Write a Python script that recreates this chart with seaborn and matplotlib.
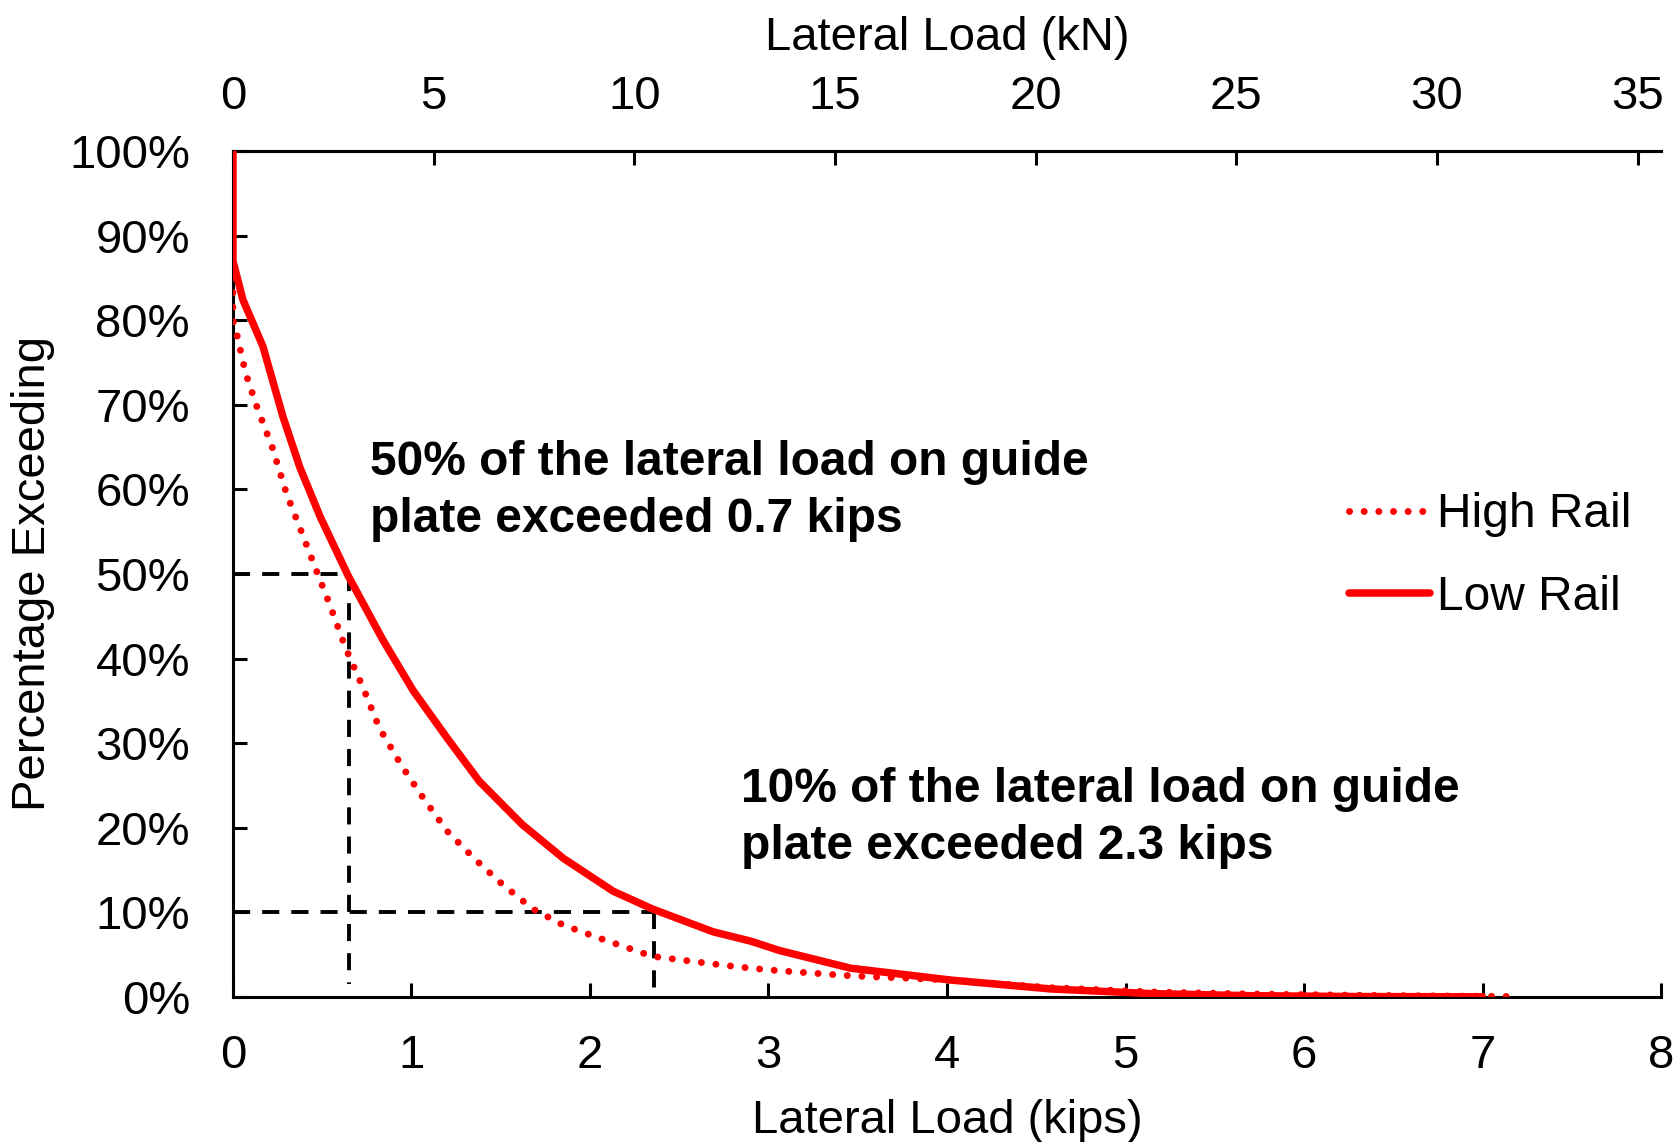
import matplotlib
matplotlib.use("Agg")
import matplotlib.pyplot as plt
import seaborn as sns
import pandas as pd

# ---- data ----
low_x = [0, 0, 0.056, 0.168, 0.28, 0.375, 0.49, 0.645, 0.84, 1.01, 1.20, 1.38, 1.62, 1.85,
         2.13, 2.35, 2.69, 2.90, 3.06, 3.46, 4.02, 4.58, 5.14, 5.70, 6.30, 7.00]
low_y = [100, 87, 82.4, 76.9, 68.6, 62.6, 56.7, 49.8, 42.2, 36.2, 30.6, 25.5, 20.4, 16.4,
         12.5, 10.4, 7.7, 6.6, 5.5, 3.4, 2.0, 0.95, 0.4, 0.15, 0.05, 0.02]
high_x = [0, 0, 0.02, 0.07, 0.14, 0.22, 0.30, 0.38, 0.46, 0.54, 0.63, 0.73, 0.82, 0.94, 1.05,
          1.20, 1.35, 1.51, 1.68, 1.85, 2.06, 2.35, 2.69, 2.90, 3.06, 3.46, 4.02, 4.58,
          5.14, 5.70, 6.30, 7.20]
high_y = [85, 80, 78.5, 73.8, 69.4, 65, 59.5, 55.2, 50.8, 46.5, 41.3, 36.5, 31.8, 27.5, 24,
          19.6, 16.4, 13.3, 10.4, 8.5, 6.9, 4.8, 3.9, 3.4, 3.1, 2.5, 2.0, 1.1,
          0.6, 0.35, 0.2, 0.05]
series_names = ["High Rail", "Low Rail"]

x_ticks = [0, 1, 2, 3, 4, 5, 6, 7, 8]
kn_ticks = [0, 5, 10, 15, 20, 25, 30, 35]
y_ticks = [0, 10, 20, 30, 40, 50, 60, 70, 80, 90, 100]
y_tick_labels = ["0%", "10%", "20%", "30%", "40%", "50%", "60%", "70%", "80%", "90%", "100%"]

ref50_x, ref50_y = 0.65, 50
ref10_x, ref10_y = 2.36, 10
KN_PER_KIP = 4.448

note1 = "50% of the lateral load on guide\nplate exceeded 0.7 kips"
note2 = "10% of the lateral load on guide\nplate exceeded 2.3 kips"

# ---- figure ----
sns.set_theme(style="white")
plt.rcParams["font.family"] = ["Liberation Sans", "DejaVu Sans"]
plt.rcParams["text.color"] = "black"
plt.rcParams["axes.labelcolor"] = "black"

FS = 34
fig = plt.figure(figsize=(16.77, 11.42), dpi=100)
ax = fig.add_axes([0.1389, 0.1270, 0.8516, 0.7408])

df_low = pd.DataFrame({"x": low_x, "y": low_y})
df_high = pd.DataFrame({"x": high_x, "y": high_y})

# reference dashed lines
dash_kw = dict(color="black", lw=2.8, ls=(0, (4.4, 3.1)), zorder=1)
ax.plot([0, ref50_x], [ref50_y, ref50_y], **dash_kw)
ax.plot([ref50_x, ref50_x], [ref50_y, 1.5], **dash_kw)
ax.plot([0, ref10_x], [ref10_y, ref10_y], **dash_kw)
ax.plot([ref10_x, ref10_x], [ref10_y, 0.5], **dash_kw)

sns.lineplot(data=df_high, x="x", y="y", ax=ax, sort=False, color="#ff0000", lw=5.0,
             label=series_names[0], estimator=None, zorder=3)
sns.lineplot(data=df_low, x="x", y="y", ax=ax, sort=False, color="#ff0000", lw=5.4,
             label=series_names[1], estimator=None, zorder=3)
hl = ax.lines[-2]
hl.set_linestyle((0, (0.01, 2.1)))
hl.set_dash_capstyle("round")
ax.lines[-1].set_solid_joinstyle("round")

ax.set_xlim(0, 8)
ax.set_ylim(0, 100)
ax.set_xticks(x_ticks)
ax.set_xticklabels([str(t) for t in x_ticks])
ax.set_yticks(y_ticks)
ax.set_yticklabels(y_tick_labels)
ax.tick_params(axis="both", direction="in", length=10, width=2.2, labelsize=FS,
               colors="black", bottom=True, left=True)
ax.tick_params(axis="x", pad=27)
ax.tick_params(axis="y", pad=31)

for side in ["left", "bottom", "top"]:
    ax.spines[side].set_visible(True)
    ax.spines[side].set_color("black")
    ax.spines[side].set_linewidth(2.2)
ax.spines["right"].set_visible(False)

ax.set_xlabel("Lateral Load (kips)", fontsize=FS, labelpad=15, color="black")
ax.set_ylabel("Percentage Exceeding", fontsize=FS, labelpad=10, color="black")

sec = ax.secondary_xaxis("top", functions=(lambda k: k * KN_PER_KIP, lambda n: n / KN_PER_KIP))
sec.set_xticks(kn_ticks)
sec.set_xticklabels([str(t) for t in kn_ticks])
sec.tick_params(direction="in", length=10, width=2.2, labelsize=FS, colors="black", pad=23)
sec.spines["top"].set_linewidth(2.2)
sec.set_xlabel("Lateral Load (kN)", fontsize=FS, labelpad=18, color="black")

ax.text(0.765, 59.8, note1, fontsize=34.5, fontweight="bold", ha="left", va="center",
        linespacing=1.34, color="black")
ax.text(2.846, 21.2, note2, fontsize=34.5, fontweight="bold", ha="left", va="center",
        linespacing=1.34, color="black")

leg = ax.legend(loc="upper left", bbox_to_anchor=(0.768, 0.619), frameon=False, fontsize=34.5,
                handlelength=1.69, handletextpad=0.15, labelspacing=0.78, borderaxespad=0)
for t in leg.get_texts():
    t.set_color("black")

fig.savefig("out.png", dpi=100)
